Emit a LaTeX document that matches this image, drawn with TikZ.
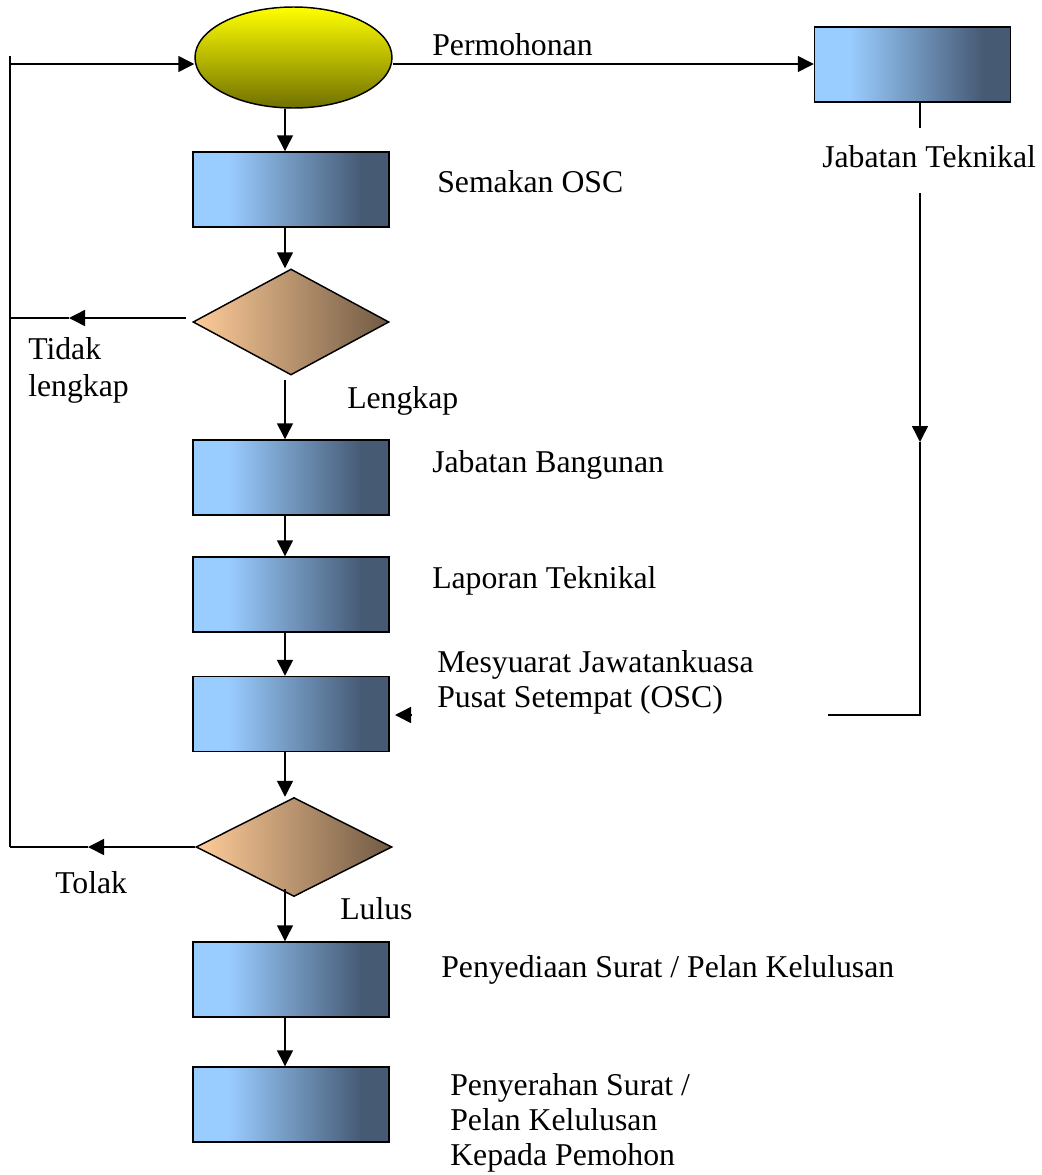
\documentclass[tikz,border=0pt]{standalone}
\usepackage{fontspec}
\setmainfont{Liberation Serif}
\usetikzlibrary{shapes.geometric,arrows.meta}
\definecolor{bxl}{RGB}{153,204,255}
\definecolor{bxr}{RGB}{70,90,116}
\definecolor{ellt}{RGB}{255,255,0}
\definecolor{ellb}{RGB}{112,112,0}
\definecolor{dial}{RGB}{255,204,153}
\definecolor{diar}{RGB}{112,90,68}
\pgfdeclarehorizontalshading{boxsh}{100bp}{color(0bp)=(bxl); color(34bp)=(bxl); color(68bp)=(bxr); color(100bp)=(bxr)}
\tikzset{
  base/.style={draw=black, line width=1.1pt, inner sep=0pt},
  bx/.style={base, rectangle, minimum width=147pt, minimum height=56.25pt, shading=boxsh},
  ell/.style={base, ellipse, minimum width=147.75pt, minimum height=75.75pt, top color=ellt, bottom color=ellb},
  dia/.style={base, diamond, minimum width=147pt, minimum height=79.5pt, left color=dial, right color=diar},
  lbl/.style={inner sep=0pt, font=\fontsize{23.8}{26.5}\selectfont, text=black},
  conn/.style={draw=black, line width=1.1pt},
  arr/.style={conn, -{Triangle[length=12pt,width=12pt]}}
}
\begin{document}
\begin{tikzpicture}[x=0.75pt,y=-0.75pt]
\useasboundingbox (0,0) rectangle (1042,1175);
% shapes
\node[ell] (start) at (293.5,57.5) {};
\node[bx] (b0) at (912.5,64.5) {};
\node[bx] (b1) at (291,189.5) {};
\node[dia] (d1) at (291,322) {};
\node[bx] (b2) at (291,477.5) {};
\node[bx] (b3) at (291,594.5) {};
\node[bx] (b4) at (291,714) {};
\node[dia, minimum height=74.25pt] (d2) at (294,847) {};
\node[bx] (b5) at (291,979.5) {};
\node[bx] (b6) at (291,1104.5) {};
% labels
\node[lbl, anchor=base west] (tperm) at (432,55) {Permohonan};
\node[lbl, anchor=base west] (tsem) at (437,192) {Semakan OSC};
\node[lbl, anchor=base west] (tjt) at (822,167) {Jabatan Teknikal};
\node[lbl, anchor=north west, align=left, font=\fontsize{23.8}{27.8}\selectfont] (ttl) at (28,337) {Tidak\\lengkap};
\node[lbl, anchor=base west] (tlen) at (347,408) {Lengkap};
\node[lbl, anchor=base west] (tjb) at (432,472) {Jabatan Bangunan};
\node[lbl, anchor=base west] (tlap) at (432,588) {Laporan Teknikal};
\node[lbl, anchor=north west, align=left] (tmes) at (437,650) {Mesyuarat Jawatankuasa\\Pusat Setempat (OSC)};
\node[lbl, anchor=base west] (ttol) at (55,893) {Tolak};
\node[lbl, anchor=base west] (tlul) at (340,919) {Lulus};
\node[lbl, anchor=base west] (tpen) at (441,977) {Penyediaan Surat / Pelan Kelulusan};
\node[lbl, anchor=north west, align=left] (tpsr) at (450,1073) {Penyerahan Surat /\\Pelan Kelulusan\\Kepada Pemohon};
% helper coordinates
\coordinate (ax) at (285,0);
\coordinate (rx) at (920,0);
\coordinate (lt) at (10,56);
\coordinate (lin) at (10,64);
\coordinate (tl0) at (186,318);
\coordinate (tlm) at (69,318);
\coordinate (tle) at (10,318);
\coordinate (tom) at (88,847);
\coordinate (lb) at (10,847);
\coordinate (r1) at (920,128);
\coordinate (r2) at (920,193);
\coordinate (rm) at (920,442);
\coordinate (rc) at (920,715);
\coordinate (rh) at (828,715);
\coordinate (sa0) at (412,715);
\coordinate (sa1) at (395,715);
% main flow
\draw[arr] (start.south -| ax) -- (b1.north -| ax);
\draw[arr] (b1.south -| ax) -- (d1.north -| ax);
\draw[arr] ([yshift=-3pt]d1.south -| ax) -- (b2.north -| ax);
\draw[arr] (b2.south -| ax) -- (b3.north -| ax);
\draw[arr] (b3.south -| ax) -- (b4.north -| ax);
\draw[arr] (b4.south -| ax) -- (d2.north -| ax);
\draw[arr] ([yshift=6pt]d2.south -| ax) -- (b5.north -| ax);
\draw[arr] (b5.south -| ax) -- (b6.north -| ax);
% left loop
\draw[conn] (lt) -- (lb);
\draw[arr] (lin) -- (lin -| start.west);
\draw[arr] (tl0) -- (tlm);
\draw[conn] (tlm) -- (tle);
\draw[arr] (d2.west) -- (tom);
\draw[conn] (tom) -- (lb);
% right branch
\draw[arr] (start.east |- lin) -- (lin -| b0.west);
\draw[conn] (b0.south -| rx) -- (r1);
\draw[arr] (r2) -- (rm);
\draw[conn] (rm) -- (rc) -- (rh);
\draw[arr] (sa0) -- (sa1);
\end{tikzpicture}
\end{document}
